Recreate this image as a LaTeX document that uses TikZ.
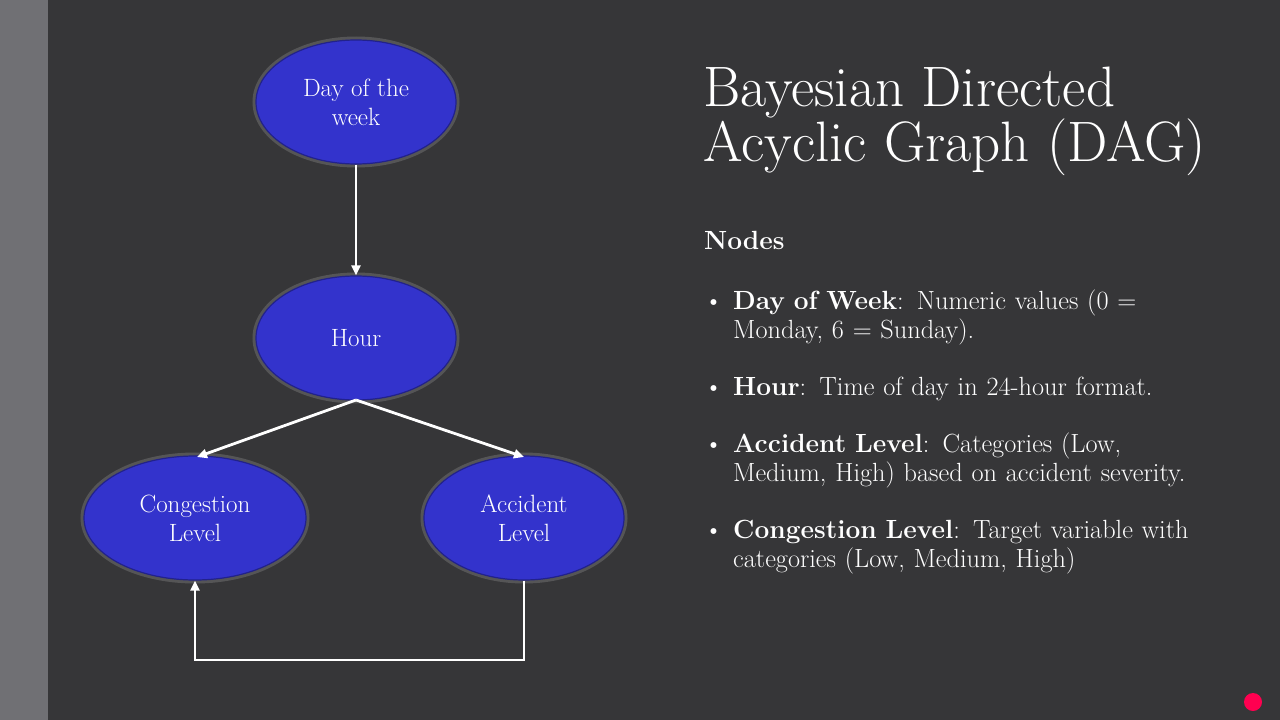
\documentclass[tikz,border=0pt]{standalone}
\usetikzlibrary{arrows.meta,shapes.geometric}
\definecolor{bg}{HTML}{363638}
\definecolor{strip}{HTML}{707074}
\definecolor{nodeblue}{HTML}{3333CC}
\definecolor{nodeedge}{HTML}{22228A}
\definecolor{dot}{HTML}{FF0050}
\tikzset{
  x=1pt,y=-1pt,
  dagnode/.style={ellipse,draw=nodeedge,line width=1.2pt,fill=nodeblue,text=white,align=center,
    font=\fontsize{25}{29}\selectfont,inner sep=0pt,
    preaction={draw=gray!60,line width=7pt,opacity=0.25}},
  link/.style={draw=white,line width=2.8pt,-{Triangle[length=10pt,width=9pt]}},
  body/.style={text=white,anchor=north west,font=\fontsize{26.3}{29}\selectfont,align=left,inner sep=0pt}
}
\begin{document}
\begin{tikzpicture}
\useasboundingbox (0,0) rectangle (1280,720);
\fill[bg] (0,0) rectangle (1280,720);
\fill[strip] (0,0) rectangle (48,720);
\node[dagnode,minimum width=200pt,minimum height=124pt] (day) at (356,102) {Day of the\\week};
\node[dagnode,minimum width=200pt,minimum height=124pt] (hour) at (356,338) {Hour};
\node[dagnode,minimum width=222pt,minimum height=124pt] (cong) at (195,518) {Congestion\\Level};
\node[dagnode,minimum width=200pt,minimum height=124pt] (acc) at (524,518) {Accident\\Level};
\coordinate (hb) at (356,400);
\coordinate (ct) at (197,457);
\coordinate (at) at (524,457);
\coordinate (c1) at (524,660);
\coordinate (c2) at (195,660);
\path[link] (day.south) -- (hour.north);
\path[link] (hb) -- (ct);
\path[link] (hb) -- (at);
\path[link] (acc.south) -- (c1) -- (c2) -- (cong.south);
\node[text=white,anchor=west,font=\fontsize{57}{55}\selectfont,align=left,inner sep=0pt] (title) at (703,121) {Bayesian Directed\\Acyclic Graph (DAG)};
\node[body] (nh) at (704,231) {\bfseries Nodes};
\node[body,text width=560pt] (list) at (704,290) {%
\makebox[29pt][l]{\textbullet}\textbf{Day of Week}: Numeric values (0 =\\
\hspace*{29pt}Monday, 6 = Sunday).\\[28pt]
\makebox[29pt][l]{\textbullet}\textbf{Hour}: Time of day in 24-hour format.\\[28pt]
\makebox[29pt][l]{\textbullet}\textbf{Accident Level}: Categories (Low,\\
\hspace*{29pt}Medium, High) based on accident severity.\\[28pt]
\makebox[29pt][l]{\textbullet}\textbf{Congestion Level}: Target variable with\\
\hspace*{29pt}categories (Low, Medium, High)};
\fill[dot] (1253,702) circle (9);
\end{tikzpicture}
\end{document}
